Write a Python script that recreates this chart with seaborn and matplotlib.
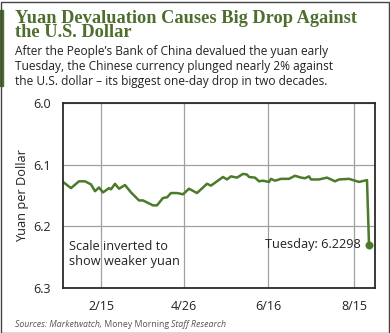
import matplotlib
matplotlib.use("Agg")
import matplotlib.pyplot as plt
import seaborn as sns
import pandas as pd
from matplotlib.patches import Rectangle

# ---- data (trading-day index, yuan per dollar) ----
day_index = [0, 4, 8, 11, 14, 16, 18, 20, 23, 24, 26, 28, 31, 34, 38, 40, 45, 47,
             50, 52, 54, 57, 60, 63, 67, 72, 74, 80, 82, 84, 87, 90, 92, 93, 96,
             98, 100, 103, 104, 106, 109, 113, 116, 119, 121, 123, 124, 128, 132,
             136, 138, 143, 144, 148, 152, 153]
yuan_per_dollar = [6.128, 6.138, 6.127, 6.127, 6.132, 6.143, 6.137, 6.145, 6.138,
                   6.140, 6.131, 6.139, 6.133, 6.145, 6.158, 6.158, 6.166, 6.166,
                   6.154, 6.153, 6.146, 6.146, 6.148, 6.139, 6.146, 6.131, 6.134,
                   6.120, 6.124, 6.119, 6.121, 6.115, 6.116, 6.120, 6.121, 6.127,
                   6.126, 6.128, 6.123, 6.126, 6.123, 6.123, 6.118, 6.121, 6.122,
                   6.119, 6.124, 6.124, 6.121, 6.127, 6.124, 6.123, 6.124, 6.128,
                   6.125, 6.2298]
tick_pos = [19, 60.5, 102.5, 145.5]
tick_labels = ["2/15", "4/26", "6/16", "8/15"]
y_ticks = [6.0, 6.1, 6.2, 6.3]

df = pd.DataFrame({"day": day_index, "rate": yuan_per_dollar})

sns.set_theme(style="white")
plt.rcParams['font.family'] = ['Open Sans', 'DejaVu Sans']

GREEN = "#4b7a2b"
TITLE_GREEN = "#4e6e2e"
TXT = "#222222"

fig = plt.figure(figsize=(3.9, 3.33), dpi=100)
ax = fig.add_axes([63/390, 1-288/333, (375-63)/390, (288-103)/333])

sns.lineplot(data=df, x="day", y="rate", ax=ax, color=GREEN, lw=1.8)
sns.scatterplot(x=[day_index[-1]], y=[yuan_per_dollar[-1]], ax=ax, color=GREEN,
                s=28, edgecolor=GREEN, zorder=5)

ax.set_xlim(0, 156)
ax.set_ylim(6.3, 6.0)
ax.set_xticks(tick_pos)
ax.set_xticklabels(tick_labels)
ax.set_yticks(y_ticks)
ax.set_yticklabels([f"{v:.1f}" for v in y_ticks])
ax.tick_params(axis="both", length=0, labelsize=9, labelcolor=TXT, pad=9)
ax.grid(True, color="#a0a0a0", lw=0.9)
ax.set_axisbelow(True)
for s in ax.spines.values():
    s.set_color("#2a2a2a")
    s.set_linewidth(1.3)
ax.set_xlabel("")
ax.set_ylabel("Yuan per Dollar", fontsize=9.2, color=TXT, labelpad=3)

ax.text(3, 6.245, "Scale inverted to\nshow weaker yuan", fontsize=9.2, color=TXT,
        ha="left", va="center", linespacing=1.15)
ax.text(149, 6.2298, "Tuesday: 6.2298", fontsize=9.2, color=TXT, ha="right",
        va="center")

# title & subtitle
fig.text(15/390, 1-37/333, "Yuan Devaluation Causes Big Drop Against\nthe U.S. Dollar",
         family="Liberation Serif", fontweight="bold", fontsize=13.2,
         color=TITLE_GREEN, ha="left", va="baseline", linespacing=0.75)
fig.text(15/390, 1-85/333,
         "After the People\u2019s Bank of China devalued the yuan early\n"
         "Tuesday, the Chinese currency plunged nearly 2% against\n"
         "the U.S. dollar \u2013 its biggest one-day drop in two decades.",
         fontsize=8.6, color=TXT, ha="left", va="baseline", linespacing=1.2)

# source line with mixed styles
t1 = fig.text(15/390, 1-327/333, "Sources: Marketwatch,", fontsize=6.3,
              style="italic", color="#555555", ha="left", va="baseline")
t2 = ax.annotate(" Money Morning ", xy=(1, 0), xycoords=t1, fontsize=6.3,
                 color="#555555", ha="left", va="bottom")
t3 = ax.annotate("Staff Research", xy=(1, 0), xycoords=t2, fontsize=6.3,
                 style="italic", color="#555555", ha="left", va="bottom")

# left green accent bar and outer border
fig.patches.append(Rectangle((0, 1-86/333), 3/390, 76/333, transform=fig.transFigure,
                             color=TITLE_GREEN, zorder=3))
fig.patches.append(Rectangle((0.5/390, 0.5/333), 388/390, 331/333, transform=fig.transFigure,
                             fill=False, edgecolor="#444444", lw=1.0, zorder=3))

fig.savefig("out.png", dpi=100)
